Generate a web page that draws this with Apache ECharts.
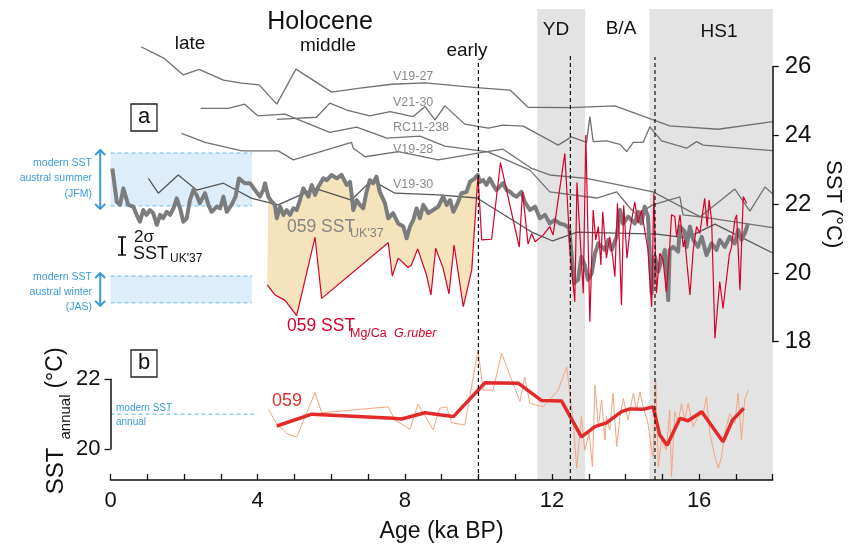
<!DOCTYPE html>
<html>
<head>
<meta charset="utf-8">
<script src="https://cdn.jsdelivr.net/npm/echarts@6/dist/echarts.min.js"></script>
<style>
  html, body { margin: 0; padding: 0; background: #fff; }
  #main { width: 848px; height: 548px; }
</style>
</head>
<body>
<div id="main"></div>
<script>
// 年代 (ka BP) 与 SST (°C) 数据
var v1927 = [[0.83,26.58],[1.46,26.24],[1.98,25.76],[2.41,25.92],[3.07,25.61],[3.57,25.52],[4.04,25.47],[4.52,24.91],[5.04,25.93],[6.01,25.26],[6.73,25.37],[7.64,25.49],[8.55,25.53],[9.95,25.39],[10.86,25.32],[11.35,24.82],[12.49,24.81],[13.71,24.86],[15.20,24.28],[16.52,24.18],[18.0,24.40]];
var v2130 = [[4.52,24.47],[5.60,24.53],[5.96,24.94],[6.42,24.74],[7.05,24.57],[7.60,24.69],[8.23,24.55],[8.55,24.84],[8.82,24.45],[9.09,24.86],[9.63,24.33],[10.27,24.21],[10.67,24.30],[11.22,24.27],[12.17,23.72],[12.53,23.96],[12.94,23.80],[13.03,24.55],[13.12,23.82],[13.48,23.84],[13.85,23.74],[14.03,23.53],[14.21,23.80],[14.48,23.80],[14.66,24.25],[14.98,23.84],[15.66,23.63],[15.93,23.82],[16.11,23.72],[18.0,23.56]];
var rc11238 = [[2.45,24.79],[3.20,24.79],[3.65,24.91],[4.00,24.57],[4.74,24.62],[5.96,24.09],[6.69,24.24],[7.51,23.92],[8.41,23.98],[9.09,23.69],[10.26,23.52],[11.40,22.99],[11.94,22.36],[13.22,22.18],[13.76,22.36],[14.12,21.89],[14.31,21.69],[14.74,21.98],[15.48,22.21],[15.56,21.69],[16.02,21.63],[16.97,22.44],[17.38,21.80],[17.79,22.50],[18.0,22.30]];
var v1928 = [[1.93,24.06],[2.57,23.80],[3.57,23.55],[4.56,23.55],[4.97,23.29],[6.55,23.80],[6.60,23.63],[6.92,23.38],[7.82,23.53],[8.91,23.29],[9.95,23.48],[10.67,23.60],[11.45,23.04],[11.94,22.85],[12.94,22.75],[14.75,22.36],[16.02,21.64],[18.0,21.32]];
var v1930 = [[1.03,22.75],[1.30,22.32],[1.84,22.85],[2.34,22.41],[3.07,22.61],[3.84,22.17],[4.56,21.98],[5.56,22.46],[6.55,22.12],[7.10,22.70],[7.73,22.32],[8.91,22.27],[9.96,22.18],[11.45,21.19],[12.02,20.93],[12.68,21.19],[14.85,21.13],[15.67,21.02],[16.43,21.42],[18.0,20.58]];
var uk37 = [[0.05,23.04],[0.17,22.07],[0.26,21.98],[0.35,22.46],[0.48,21.98],[0.62,21.93],[0.71,21.69],[0.80,21.49],[0.89,21.83],[0.98,21.69],[1.07,21.83],[1.16,21.74],[1.26,21.40],[1.35,21.69],[1.43,21.59],[1.53,21.78],[1.62,21.69],[1.71,21.88],[1.80,22.17],[1.89,21.88],[1.98,21.49],[2.07,21.59],[2.16,22.12],[2.25,22.41],[2.34,22.27],[2.43,22.03],[2.57,22.32],[2.66,21.98],[2.75,21.78],[2.89,21.93],[2.98,21.88],[3.07,22.22],[3.16,21.78],[3.29,21.98],[3.40,22.22],[3.49,22.75],[3.65,22.61],[3.79,22.61],[3.93,22.41],[4.06,22.22],[4.15,22.41],[4.20,22.61],[4.29,22.22],[4.38,22.07],[4.47,21.98],[4.52,21.59],[4.61,21.93],[4.70,21.69],[4.79,21.83],[4.88,21.69],[4.97,21.88],[5.06,21.83],[5.15,22.12],[5.24,22.46],[5.38,22.22],[5.47,22.56],[5.56,22.27],[5.65,22.51],[5.78,22.75],[5.88,22.70],[6.01,22.85],[6.15,22.75],[6.28,22.85],[6.42,22.56],[6.51,22.65],[6.55,22.32],[6.60,21.83],[6.69,22.12],[6.78,21.98],[6.87,21.88],[6.96,22.36],[7.05,22.70],[7.14,22.61],[7.23,22.80],[7.32,22.36],[7.46,22.03],[7.55,21.59],[7.68,21.74],[7.82,21.44],[7.96,21.35],[8.05,21.01],[8.14,21.35],[8.23,21.54],[8.32,21.88],[8.41,21.59],[8.50,21.98],[8.64,21.74],[8.77,21.83],[8.91,21.93],[9.04,22.22],[9.14,21.98],[9.23,22.12],[9.32,21.78],[9.45,22.07],[9.54,22.32],[9.68,22.36],[9.77,22.65],[9.90,22.75],[9.98,22.85],[10.04,22.65],[10.13,22.70],[10.22,22.56],[10.31,22.75],[10.40,22.56],[10.49,22.41],[10.58,22.51],[10.67,22.61],[10.77,22.41],[10.86,22.36],[10.95,22.27],[11.04,22.22],[11.17,22.36],[11.26,22.07],[11.40,21.83],[11.54,21.93],[11.67,21.59],[11.81,21.69],[11.94,21.44],[12.08,21.54],[12.21,21.44],[12.35,21.40],[12.47,21.30],[12.53,20.57],[12.60,19.70],[12.71,19.80],[12.80,20.47],[12.89,20.23],[12.98,19.80],[13.08,19.99],[13.17,20.57],[13.26,20.86],[13.35,20.76],[13.44,20.67],[13.53,20.96],[13.62,20.67],[13.76,21.05],[13.85,21.83],[13.93,21.44],[14.07,21.64],[14.25,21.44],[14.34,21.78],[14.43,21.44],[14.52,21.93],[14.61,21.64],[14.71,19.41],[14.80,20.47],[14.89,20.04],[14.98,20.38],[15.07,20.67],[15.16,19.21],[15.20,20.67],[15.29,20.76],[15.43,20.62],[15.48,21.35],[15.61,21.20],[15.66,20.76],[15.75,21.35],[15.84,20.96],[15.97,20.76],[16.07,21.05],[16.20,20.52],[16.34,20.86],[16.47,20.67],[16.56,20.96],[16.70,20.76],[16.83,21.05],[16.97,20.86],[17.06,21.25],[17.15,20.96],[17.24,21.15],[17.33,21.44]];
var mgca = [[4.26,19.65],[4.47,19.36],[4.74,19.21],[5.06,18.76],[5.56,21.04],[5.74,19.26],[7.55,20.88],[7.66,19.91],[7.82,20.43],[8.09,20.16],[8.18,20.23],[8.35,20.70],[8.59,19.94],[8.71,19.36],[8.84,20.72],[9.04,20.14],[9.20,19.39],[9.34,20.81],[9.59,19.02],[9.82,20.09],[9.99,22.85],[10.09,20.96],[10.36,20.98],[10.60,23.21],[11.11,20.75],[11.20,22.36],[11.35,20.84],[11.45,21.15],[11.54,20.91],[11.76,21.10],[11.94,21.35],[12.03,21.10],[12.35,23.48],[12.49,20.67],[12.62,19.16],[12.68,22.63],[12.85,19.41],[12.92,24.01],[13.03,18.58],[13.12,21.83],[13.19,20.96],[13.26,21.35],[13.33,20.23],[13.38,21.78],[13.48,20.43],[13.57,21.05],[13.65,20.47],[13.71,19.89],[13.78,22.03],[13.83,20.96],[13.89,19.07],[13.95,21.97],[14.04,20.43],[14.12,21.25],[14.25,22.07],[14.34,21.44],[14.43,21.83],[14.52,21.25],[14.61,20.67],[14.71,19.02],[14.77,22.32],[14.84,19.41],[14.93,20.57],[15.02,20.38],[15.11,19.45],[15.20,20.76],[15.25,21.69],[15.34,21.64],[15.39,21.05],[15.48,21.69],[15.57,20.76],[15.61,20.96],[15.75,19.36],[15.84,20.67],[15.93,21.35],[16.02,21.15],[16.15,22.17],[16.22,21.35],[16.27,22.12],[16.34,21.54],[16.43,18.10],[16.56,19.75],[16.65,18.97],[16.73,19.70],[16.82,20.52],[16.88,20.76],[16.97,21.54],[17.02,21.69],[17.11,19.50],[17.20,22.22],[17.29,22.03]];
var annualSmooth = [[4.52,20.66],[5.47,21.00],[7.68,20.88],[7.91,20.86],[8.55,21.04],[8.95,20.98],[9.32,20.93],[10.18,21.90],[11.08,21.89],[11.72,21.39],[12.26,21.38],[12.80,20.35],[13.17,20.64],[13.48,20.75],[13.89,21.07],[14.12,21.15],[14.48,21.14],[14.75,21.21],[14.93,20.40],[15.13,20.11],[15.48,20.88],[15.70,20.81],[16.07,21.07],[16.65,20.21],[16.91,20.83],[17.21,21.17]];
var annualRaw = [[4.29,21.14],[4.52,20.72],[4.79,20.45],[5.06,20.34],[5.56,21.62],[5.74,21.04],[7.55,21.21],[7.73,20.83],[8.14,20.57],[8.36,21.29],[8.55,20.95],[8.77,20.55],[8.95,21.17],[9.14,21.21],[9.27,20.75],[9.63,20.69],[9.99,22.84],[10.13,21.69],[10.40,21.69],[10.63,22.75],[11.13,21.36],[11.26,22.07],[11.40,21.31],[11.76,21.21],[12.17,21.69],[12.40,22.36],[12.58,20.74],[12.67,19.45],[12.80,20.93],[12.89,19.97],[13.01,20.45],[13.10,19.49],[13.17,21.84],[13.26,20.64],[13.35,21.41],[13.44,20.26],[13.48,20.93],[13.57,20.55],[13.66,21.60],[13.76,20.07],[13.85,20.93],[13.94,21.45],[14.07,20.83],[14.21,21.60],[14.30,21.12],[14.39,21.64],[14.48,21.21],[14.61,20.74],[14.71,19.97],[14.75,19.78],[14.82,21.98],[14.89,19.49],[14.98,20.26],[15.11,19.97],[15.20,21.12],[15.25,19.21],[15.34,21.07],[15.43,20.74],[15.52,21.31],[15.61,20.83],[15.70,21.31],[15.84,20.64],[15.97,20.93],[16.11,21.02],[16.20,21.50],[16.29,20.45],[16.43,19.78],[16.52,19.45],[16.61,19.78],[16.70,20.45],[16.83,21.02],[16.97,20.74],[17.06,21.60],[17.15,20.26],[17.24,21.41],[17.33,21.69]];

// 时期分界与阴影
var ydBand = [11.6, 12.9];
var hs1Band = [14.65, 18];
var boundaries = [10, 12.5, 14.8];
var boundaryTops = [0.892, 0.902, 0.898];
// 现代 SST 范围
var summerRange = [21.95, 23.49];
var winterRange = [19.13, 19.91];
var modernEnd = 3.85;
var annualModern = 21.0;

var FONT = 'Liberation Sans';
var BLUE = '#3a9ad9';
var grayLine = '#707070';

var myChart = echarts.init(document.getElementById('main'));

function thin(name, data, color) {
    return {
        name: name, type: 'line', xAxisIndex: 1, yAxisIndex: 1, data: data,
        showSymbol: false, clip: false, z: 3,
        lineStyle: { color: color || grayLine, width: 1.3 }
    };
}
function hline(y, grid, x0, x1, color) {
    return {
        type: 'line', xAxisIndex: grid, yAxisIndex: grid, data: [[x0, y], [x1, y]],
        showSymbol: false, clip: false, silent: true, z: 2,
        lineStyle: { color: color, width: 1, type: [4, 3] }
    };
}

// 填充区域：UK'37 与 Mg/Ca 之间
var fillTop = uk37.filter(function (p) { return p[0] >= 4.26 && p[0] <= 9.99; });
var fillBottom = mgca.filter(function (p) { return p[0] <= 9.99; }).slice().reverse();
var fillPoly = fillTop.concat(fillBottom);

var series = [];
// 灰色阴影 YD / HS1
series.push({
    type: 'line', xAxisIndex: 0, yAxisIndex: 0, data: [], silent: true, z: 0,
    markArea: {
        silent: true,
        itemStyle: { color: '#e4e3e4' },
        data: [
            [{ coord: [ydBand[0], 0] }, { coord: [ydBand[1], 1] }],
            [{ coord: [hs1Band[0], 0] }, { coord: [hs1Band[1], 1] }]
        ]
    }
});
boundaries.forEach(function (b, i) {
    series.push({
        type: 'line', xAxisIndex: 0, yAxisIndex: 0, data: [[b, 0], [b, boundaryTops[i]]],
        showSymbol: false, silent: true, z: 6,
        lineStyle: { color: '#111', width: 1.2, type: [4, 3] }
    });
});
// 现代 SST 蓝色区
series.push({
    type: 'line', xAxisIndex: 1, yAxisIndex: 1, data: [], silent: true, z: 1,
    markArea: {
        silent: true,
        itemStyle: { color: '#ddedf9' },
        data: [
            [{ coord: [0, summerRange[1]] }, { coord: [modernEnd, summerRange[0]] }],
            [{ coord: [0, winterRange[1]] }, { coord: [modernEnd, winterRange[0]] }]
        ]
    }
});
[summerRange[0], summerRange[1], winterRange[0], winterRange[1]].forEach(function (v) {
    series.push(hline(v, 1, 0, modernEnd, '#6cbbec'));
});
// 双向箭头
series.push({
    type: 'custom', xAxisIndex: 1, yAxisIndex: 1, clip: false, silent: true, z: 4,
    data: [summerRange, winterRange],
    renderItem: function (params, api) {
        var top = api.coord([-0.28, api.value(1)]);
        var bot = api.coord([-0.28, api.value(0)]);
        var st = { stroke: BLUE, lineWidth: 2, fill: null };
        return {
            type: 'group',
            children: [
                { type: 'line', shape: { x1: top[0], y1: top[1] - 3, x2: bot[0], y2: bot[1] + 3 }, style: st },
                { type: 'polyline', shape: { points: [[top[0] - 5, top[1] + 2], [top[0], top[1] - 3], [top[0] + 5, top[1] + 2]] }, style: st },
                { type: 'polyline', shape: { points: [[bot[0] - 5, bot[1] - 2], [bot[0], bot[1] + 3], [bot[0] + 5, bot[1] - 2]] }, style: st }
            ]
        };
    }
});
// 填充
series.push({
    type: 'custom', xAxisIndex: 1, yAxisIndex: 1, data: [[0]], silent: true, z: 2,
    renderItem: function (params, api) {
        var pts = fillPoly.map(function (p) { return api.coord(p); });
        return { type: 'polygon', shape: { points: pts }, style: { fill: '#f5e3bb' } };
    }
});
series.push(thin('V19-27', v1927));
series.push(thin('V21-30', v2130));
series.push(thin('RC11-238', rc11238));
series.push(thin('V19-28', v1928));
series.push(thin('V19-30', v1930, '#555'));
series.push({
    name: "059 UK'37", type: 'line', xAxisIndex: 1, yAxisIndex: 1, data: uk37,
    showSymbol: false, clip: false, z: 4,
    lineStyle: { color: '#7b7c7e', width: 4, join: 'round' }
});
series.push({
    name: '059 Mg/Ca', type: 'line', xAxisIndex: 1, yAxisIndex: 1, data: mgca,
    showSymbol: false, clip: false, z: 5,
    lineStyle: { color: '#d6002a', width: 1.2 }
});
// b 图
series.push(hline(annualModern, 2, 0, 3.9, '#5aaee0'));
series.push({
    type: 'line', xAxisIndex: 2, yAxisIndex: 2, data: annualRaw,
    showSymbol: false, clip: false, z: 3,
    lineStyle: { color: '#f2a57f', width: 1 }
});
series.push({
    type: 'line', xAxisIndex: 2, yAxisIndex: 2, data: annualSmooth,
    showSymbol: false, clip: false, z: 4,
    lineStyle: { color: '#e32a2a', width: 3.5 }
});

function txt(t, x, y, size, color, align, extra, rot) {
    var s = { text: t, x: 0, y: 0, font: (extra || '') + size + 'px "' + FONT + '"', fill: color || '#111',
              textAlign: align || 'center', textVerticalAlign: 'middle' };
    return { type: 'text', x: x, y: y, rotation: rot || 0, style: s, z: 10 };
}

var graphics = [
    txt('Holocene', 320, 22, 25),
    txt('late', 190, 44, 19),
    txt('middle', 328, 46, 19),
    txt('early', 467, 51, 19),
    txt('YD', 556, 30, 19),
    txt('B/A', 621, 29, 19),
    txt('HS1', 719, 32, 19),
    txt('V19-27', 393, 77, 12.5, '#8a8a8a', 'left'),
    txt('V21-30', 393, 103, 12.5, '#8a8a8a', 'left'),
    txt('RC11-238', 393, 128, 12.5, '#8a8a8a', 'left'),
    txt('V19-28', 393, 150, 12.5, '#8a8a8a', 'left'),
    txt('V19-30', 393, 185, 12.5, '#8a8a8a', 'left'),
    { type: 'rect', shape: { x: 131, y: 104, width: 26, height: 27 }, style: { fill: '#fff', stroke: '#222', lineWidth: 1.3 }, z: 10 },
    txt('a', 144, 117, 22),
    { type: 'rect', shape: { x: 131, y: 350, width: 26, height: 27 }, style: { fill: '#fff', stroke: '#222', lineWidth: 1.3 }, z: 10 },
    txt('b', 144, 363, 22),
    txt('modern SST', 92, 163, 10.5, BLUE, 'right'),
    txt('austral summer', 92, 178, 10.5, BLUE, 'right'),
    txt('(JFM)', 92, 194, 10.5, BLUE, 'right'),
    txt('modern SST', 92, 277, 10.5, BLUE, 'right'),
    txt('austral winter', 92, 292, 10.5, BLUE, 'right'),
    txt('(JAS)', 92, 307, 10.5, BLUE, 'right'),
    txt('modern SST', 116, 408, 10, BLUE, 'left'),
    txt('annual', 116, 422, 10, BLUE, 'left'),
    txt('059 SST', 287, 227, 17.5, '#858585', 'left'),
    txt("UK'37", 350, 234, 12.5, '#858585', 'left'),
    txt('059 SST', 287, 326, 17.5, '#d6002a', 'left'),
    txt('Mg/Ca', 350, 334, 12.5, '#d6002a', 'left'),
    txt('G.ruber', 394, 334, 12.5, '#d6002a', 'left', 'italic '),
    txt('2σ', 134, 237, 17, '#111', 'left'),
    txt('SST', 133, 254, 18, '#111', 'left'),
    txt("UK'37", 170, 259, 12, '#111', 'left'),
    txt('059', 287, 401, 18, '#e03030', 'center'),
    // b 图纵轴标题
    txt('SST', 56, 471, 24, '#111', 'center', '', Math.PI / 2),
    txt('annual', 66, 417, 15, '#111', 'center', '', Math.PI / 2),
    txt('(°C)', 56, 368, 23, '#111', 'center', '', Math.PI / 2),
    { type: 'line', shape: { x1: 122, y1: 237, x2: 122, y2: 255 }, style: { stroke: '#111', lineWidth: 2 }, z: 10 },
    { type: 'line', shape: { x1: 118, y1: 237, x2: 126, y2: 237 }, style: { stroke: '#111', lineWidth: 1.5 }, z: 10 },
    { type: 'line', shape: { x1: 118, y1: 255, x2: 126, y2: 255 }, style: { stroke: '#111', lineWidth: 1.5 }, z: 10 }
];

var hiddenX = function (i) {
    return { gridIndex: i, type: 'value', min: 0, max: 18, show: false };
};

var option = {
    animation: false,
    backgroundColor: '#fff',
    textStyle: { fontFamily: FONT },
    grid: [
        { left: 110.5, right: 75.3, top: 9, bottom: 68, outerBoundsMode: 'none', containLabel: false },
        { left: 110.5, right: 75.3, top: 66.7, height: 275, outerBoundsMode: 'none', containLabel: false },
        { left: 110.5, right: 75.3, top: 379.3, height: 69.7, outerBoundsMode: 'none', containLabel: false }
    ],
    xAxis: [
        {
            gridIndex: 0, type: 'value', min: 0, max: 18, interval: 1, z: 10,
            name: 'Age (ka BP)', nameLocation: 'middle', nameGap: 40,
            nameTextStyle: { fontSize: 23, color: '#111', fontFamily: FONT },
            axisLine: { onZero: false, lineStyle: { color: '#111', width: 1.5 } },
            axisTick: { inside: true, length: 6, lineStyle: { color: '#111', width: 1.3 } },
            axisLabel: {
                fontSize: 22, color: '#111', margin: 10, fontFamily: FONT,
                formatter: function (v) { return v % 4 === 0 ? String(v) : ''; }
            },
            splitLine: { show: false }
        },
        hiddenX(1),
        hiddenX(2)
    ],
    yAxis: [
        { gridIndex: 0, type: 'value', min: 0, max: 1, show: false },
        {
            gridIndex: 1, type: 'value', min: 18, max: 26, interval: 2, position: 'right', z: 10,
            name: 'SST (°C)', nameLocation: 'middle', nameRotate: -90, nameGap: 49,
            nameTextStyle: { fontSize: 22, color: '#111', fontFamily: FONT },
            axisLine: { show: true, onZero: false, lineStyle: { color: '#111', width: 1.5 } },
            axisTick: { show: true, inside: false, length: 6, lineStyle: { color: '#111', width: 1.3 } },
            axisLabel: { fontSize: 24, color: '#111', margin: 12, fontFamily: FONT },
            splitLine: { show: false }
        },
        {
            gridIndex: 2, type: 'value', min: 20, max: 22, interval: 2, position: 'left', z: 10,
            axisLine: { show: true, onZero: false, lineStyle: { color: '#111', width: 1.5 } },
            axisTick: { show: true, inside: false, length: 6, lineStyle: { color: '#111', width: 1.3 } },
            axisLabel: { fontSize: 22, color: '#111', margin: 10, fontFamily: FONT },
            splitLine: { show: false }
        }
    ],
    series: series,
    graphic: { elements: graphics }
};

myChart.setOption(option);
</script>
</body>
</html>
